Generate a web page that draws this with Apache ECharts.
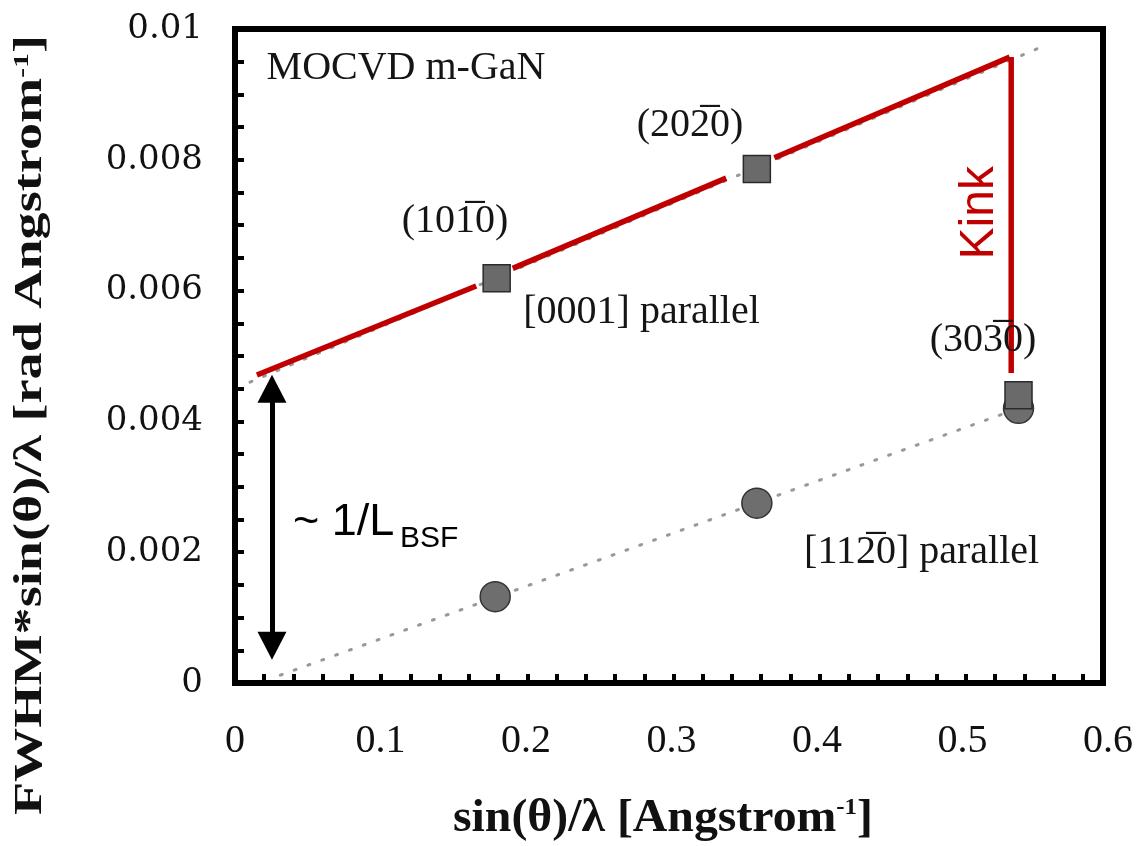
<!DOCTYPE html>
<html><head><meta charset="utf-8">
<script src="https://cdn.jsdelivr.net/npm/echarts@6/dist/echarts.min.js"></script>
<style>html,body{margin:0;padding:0;background:#fff}#c{width:1136px;height:846px}</style>
</head><body><div id="c"></div>
<script>
// ---- data ----
const xTickLabels = ['0', '0.1', '0.2', '0.3', '0.4', '0.5', '0.6'];
const yTickLabels = ['0', '0.002', '0.004', '0.006', '0.008', '0.01'];
const squareData = [[0.179, 0.00619], [0.357, 0.00786], [0.536, 0.00440]];   // [0001] parallel
const circleData = [[0.178, 0.00132], [0.357, 0.00275], [0.536, 0.00420]];   // [11-20] parallel
const upperFit = [[0.0103, 0.00460], [0.550, 0.00971]];
const lowerFit = [[0.031, 0.00012], [0.536, 0.00420]];
const redSegments = [
  [[0.015, 0.00471], [0.165, 0.00607]],
  [[0.190, 0.00634], [0.336, 0.00772]],
  [[0.369, 0.00803], [0.530, 0.00957]]
];
const kinkLine = [[0.531, 0.00957], [0.531, 0.00474]];
const bsfArrow = [[0.0253, 0.00450], [0.0253, 0.00057]];
const annotationText = ['MOCVD m-GaN', '(101\u03050)', '(202\u03050)', '(303\u03050)', '[0001] parallel', '[112\u03050] parallel', 'Kink', '~ 1/L', 'BSF'];
const annotationPos = [[0.117, 0.00940], [0.1505, 0.00706], [0.3113, 0.00853], [0.5117, 0.00524], [0.2781, 0.00567], [0.4697, 0.00200], [0.5097, 0.00719], [0.0397, 0.00246], [0.1129, 0.00220]];
const annotationKind = ['serif', 'serif', 'serif', 'serif', 'serif', 'serif', 'kink', 'bsf', 'sub'];
const xTitle = ['sin(\u03b8)/\u03bb [Angstrom', '-1', ']'];
const yTitle = ['FWHM*sin(\u03b8)/\u03bb [rad Angstrom', '-1', ']'];

// ---- styles ----
const RED = '#c00000';
const kindStyle = {
  serif: { fontFamily: 'Liberation Serif', fontSize: 40, color: '#151515', align: 'center' },
  kink: { fontFamily: 'Liberation Sans', fontSize: 48, color: RED, align: 'center', rotate: 90 },
  bsf: { fontFamily: 'Liberation Sans', fontSize: 45, color: '#000', align: 'left' },
  sub: { fontFamily: 'Liberation Sans', fontSize: 30, color: '#000', align: 'left' }
};

function measure(parts, font, supFont) {
  const ctx = document.createElement('canvas').getContext('2d');
  ctx.font = font;
  let w = ctx.measureText(parts[0]).width + ctx.measureText(parts[2]).width;
  ctx.font = supFont;
  w += ctx.measureText(parts[1]).width;
  return w;
}
const yTitleSize = 40, yTitleSup = 22;
const yScale = 780 / measure(yTitle, 'bold ' + yTitleSize + 'px "Liberation Serif"', 'bold ' + yTitleSup + 'px "Liberation Serif"');
const xTitleSize = 46, xTitleSup = 24;
const xScale = 420 / measure(xTitle, 'bold ' + xTitleSize + 'px "Liberation Serif"', 'bold ' + xTitleSup + 'px "Liberation Serif"');

const chart = echarts.init(document.getElementById('c'), null, { renderer: 'canvas' });
const frame = { color: '#000', width: 6, cap: 'square' };

const series = [];
series.push({
  type: 'line', data: upperFit, symbol: 'none', z: 1, silent: true,
  lineStyle: { color: '#999', width: 3, type: [2, 12.7], cap: 'round' }
});
series.push({
  type: 'line', data: lowerFit, symbol: 'none', z: 1, silent: true,
  lineStyle: { color: '#999', width: 3, type: [2, 12.7], cap: 'round' }
});
redSegments.forEach(seg => series.push({
  type: 'line', data: seg, symbol: 'none', z: 2, silent: true,
  lineStyle: { color: RED, width: 5.5 }
}));
series.push({
  type: 'line', data: kinkLine, symbol: 'none', z: 2, silent: true,
  lineStyle: { color: RED, width: 5.5 }
});
series.push({
  type: 'scatter', data: circleData, symbol: 'circle', symbolSize: 30, z: 3,
  itemStyle: { color: '#6e6e6e', borderColor: '#333', borderWidth: 1.5, opacity: 1 }
});
series.push({
  type: 'scatter', data: squareData, symbol: 'rect', symbolSize: 27, z: 4,
  itemStyle: { color: '#6a6a6a', borderColor: '#2a2a2a', borderWidth: 1.5, opacity: 1 }
});
series.push({
  type: 'scatter', data: [], z: 5, silent: true,
  markLine: {
    silent: true, symbol: ['triangle', 'triangle'], symbolSize: [29, 28], precision: 6,
    label: { show: false },
    lineStyle: { color: '#000', width: 5, type: 'solid', opacity: 1 },
    itemStyle: { opacity: 1 },
    data: [[{ coord: bsfArrow[0] }, { coord: bsfArrow[1] }]]
  }
});
series.push({
  type: 'scatter', z: 6, silent: true, symbolSize: 1,
  itemStyle: { color: 'rgba(0,0,0,0)', opacity: 1 },
  data: annotationText.map((t, i) => {
    const s = kindStyle[annotationKind[i]];
    return {
      value: annotationPos[i],
      label: {
        show: true, position: 'inside', formatter: t,
        fontFamily: s.fontFamily, fontSize: s.fontSize, color: s.color, opacity: 1,
        align: s.align, verticalAlign: 'middle', rotate: s.rotate || 0
      }
    };
  })
});

chart.setOption({
  animation: false,
  backgroundColor: '#fff',
  grid: [
    { left: 235, top: 29, width: 868, height: 654, containLabel: false },
    { left: 235, top: 29, width: 877, height: 654, containLabel: false }
  ],
  xAxis: [
    { type: 'value', gridIndex: 0, min: 0, max: 0.5938, interval: 0.02, position: 'bottom',
      axisLine: { show: true, onZero: false, lineStyle: frame },
      axisTick: { show: true, inside: true, length: 9, lineStyle: { color: '#000', width: 4 } },
      axisLabel: { show: false }, splitLine: { show: false } },
    { type: 'value', gridIndex: 1, min: 0, max: 0.6, interval: 0.1, position: 'bottom',
      axisLine: { show: false }, axisTick: { show: false }, splitLine: { show: false },
      axisLabel: { show: true, margin: 38, fontFamily: 'Liberation Serif', fontSize: 40, color: '#111',
        formatter: v => xTickLabels[Math.round(v / 0.1)] } },
    { type: 'value', gridIndex: 0, min: 0, max: 0.5938, position: 'top',
      axisLine: { show: true, onZero: false, lineStyle: frame }, axisTick: { show: false },
      axisLabel: { show: false }, splitLine: { show: false } }
  ],
  yAxis: [
    { type: 'value', gridIndex: 0, min: 0, max: 0.01, interval: 0.002, position: 'left',
      axisLine: { show: true, onZero: false, lineStyle: frame },
      axisTick: { show: true, inside: true, length: 9, lineStyle: { color: '#000', width: 4 } },
      minorTick: { show: true, splitNumber: 4, length: 9, lineStyle: { color: '#000', width: 4 } },
      axisLabel: { show: true, margin: 32, fontFamily: 'DejaVu Serif', fontSize: 34, color: '#111',
        formatter: v => yTickLabels[Math.round(v / 0.002)] },
      splitLine: { show: false } },
    { type: 'value', gridIndex: 0, min: 0, max: 0.01, position: 'right',
      axisLine: { show: true, onZero: false, lineStyle: frame }, axisTick: { show: false },
      axisLabel: { show: false }, splitLine: { show: false } },
    { type: 'value', gridIndex: 1, min: 0, max: 0.01, show: false }
  ],
  graphic: [
    { type: 'text', x: 31, y: 425, rotation: Math.PI / 2, scaleX: yScale, silent: true,
      style: {
        text: '{m|' + yTitle[0] + '}{s|' + yTitle[1] + '}{m|' + yTitle[2] + '}',
        align: 'center', verticalAlign: 'middle',
        rich: {
          m: { fontFamily: 'Liberation Serif', fontWeight: 'bold', fontSize: yTitleSize, fill: '#111' },
          s: { fontFamily: 'Liberation Serif', fontWeight: 'bold', fontSize: yTitleSup, fill: '#111', verticalAlign: 'top' }
        }
      } },
    { type: 'text', x: 663, y: 819, scaleX: xScale, silent: true,
      style: {
        text: '{m|' + xTitle[0] + '}{s|' + xTitle[1] + '}{m|' + xTitle[2] + '}',
        align: 'center', verticalAlign: 'middle',
        rich: {
          m: { fontFamily: 'Liberation Serif', fontWeight: 'bold', fontSize: xTitleSize, fill: '#111' },
          s: { fontFamily: 'Liberation Serif', fontWeight: 'bold', fontSize: xTitleSup, fill: '#111', verticalAlign: 'top' }
        }
      } }
  ],
  series: series
});
</script>
</body></html>
